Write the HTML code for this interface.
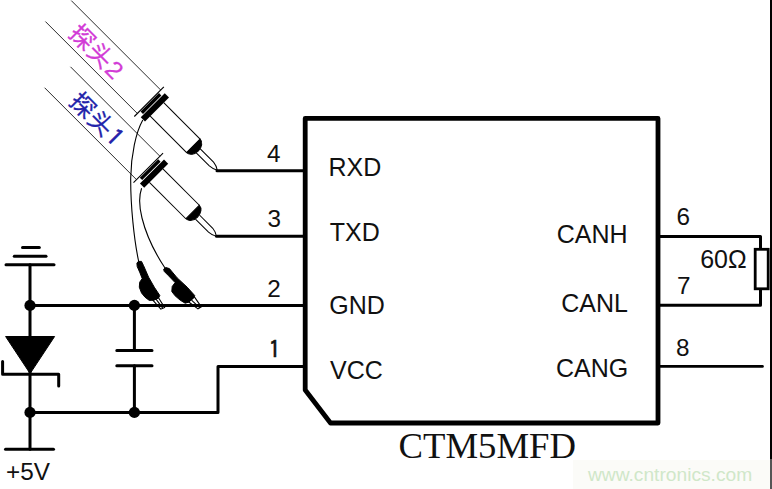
<!DOCTYPE html>
<html><head><meta charset="utf-8"><title>CTM5MFD</title>
<style>
html,body{margin:0;padding:0;background:#fff;}
svg{display:block}
text{font-family:"Liberation Sans","Noto Sans CJK SC",sans-serif;fill:#111}
</style></head><body>
<svg width="772" height="489" viewBox="0 0 772 489">
<rect width="772" height="489" fill="#fff"/>
<rect x="573" y="460" width="197" height="29" fill="#fbfbf8"/>
<rect x="770" y="0" width="2" height="459" fill="#000"/>
<rect x="770" y="459" width="2" height="30" fill="#555"/>
<!-- IC -->
<path d="M305.2 118.4 H658 V423 H330.5 L305.2 390 Z" fill="none" stroke="#000" stroke-width="4.8" stroke-linejoin="round"/>
<!-- pins -->
<g stroke="#000" stroke-width="3" fill="none" stroke-linecap="round" stroke-linejoin="round">
<path d="M217 170.8 H305"/>
<path d="M216.5 236.2 H305"/>
<path d="M30 305.5 H305"/>
<path d="M305 366.4 H218 V412.4 H30"/>
<path d="M30 264.8 V449.3"/>
<path d="M6 264.8 H54"/>
<path d="M14.3 256.2 H46"/>
<path d="M22.5 247.4 H39.3"/>
<path d="M5.5 449.3 H53.5"/>
<path d="M134.4 305.5 V350.4 M134.4 365.8 V412.4"/>
<path d="M116.8 350.4 H152 M116.8 365.8 H152"/>
<path d="M2.6 361.5 V374.2 H58.7 V386"/>
<path d="M658 236.5 H760.5 V249 M760.5 289 V305.3 H658"/>
<path d="M658 366.4 H762.5" stroke-width="2.6"/>
<rect x="755.2" y="249.3" width="13" height="39.5" fill="#fff" stroke-width="2.8" stroke-linejoin="miter"/>
</g>
<path d="M5.6 336.5 H54.6 L30.1 373.6 Z" fill="#000" stroke="#000" stroke-width="1" stroke-linejoin="round"/>
<g fill="#000"><circle cx="30" cy="305.4" r="5.6"/><circle cx="134.4" cy="305.4" r="5.6"/><circle cx="30" cy="412.4" r="5.6"/><circle cx="134.4" cy="412.4" r="5.6"/></g>
<!-- probes -->
<defs>
<g id="probe" transform="translate(149.15,101.65) rotate(45)" fill="none" stroke="#000" stroke-linecap="butt">
  <line x1="-126.5" y1="-16.4" x2="0" y2="-16.4" stroke="#222" stroke-width="0.9"/>
  <line x1="-130" y1="16.7" x2="0" y2="16.7" stroke="#222" stroke-width="0.9"/>
  <line x1="0" y1="-20.8" x2="0" y2="21" stroke-width="1.1"/>
  <rect x="0.9" y="-13" width="3.4" height="26" fill="#000" stroke="none"/>
  <rect x="5.1" y="-17" width="6" height="34" fill="#000" stroke="none"/>
  <line x1="11" y1="-9.6" x2="62.5" y2="-9.6" stroke-width="1"/>
  <line x1="11" y1="9.5" x2="62.5" y2="9.5" stroke-width="1"/>
  <path d="M62.5 -9.6 A7.1 9.55 0 0 1 62.5 9.5 Z" fill="#000" stroke-width="1"/>
  <path d="M69.5 -2.8 L88.3 -2.8 Q93.5 -2.2 96.6 0.3 Q93 2.6 88 2.9 L69.5 2.9" stroke-width="1"/>
</g>
</defs>
<use href="#probe"/>
<use href="#probe" transform="translate(-0.8,66.2)"/>
<!-- wires -->
<g fill="none" stroke="#000" stroke-width="1.1">
<path d="M142.8 120 C136 132 131 155 130.7 178 C130.5 205 134 240 138.8 262"/>
<path d="M141.6 188.3 C138.5 197 139.5 208 142 218 C146 234 155 253 165 268"/>
</g>
<polygon points="152.6,299.8 160.8,309.2 164.6,307.5 158.3,297.5" fill="none" stroke="#000" stroke-width="1.1"/>
<line x1="155.8" y1="298.9" x2="162.9" y2="308.4" stroke="#000" stroke-width="1.1"/>
<polygon points="188.4,301.8 198.0,308.9 201.3,306.9 194.4,296.9" fill="none" stroke="#000" stroke-width="1.1"/>
<line x1="191.5" y1="300.1" x2="199.8" y2="307.9" stroke="#000" stroke-width="1.1"/>
<polygon points="136.9,263.2 138.3,261.4 141.5,261.4 143.6,265.7 148.6,277.2 154.3,287.2 159.8,295.5 158.6,297.9 154.3,300.1 149.3,300.4 145.0,297.2 141.5,292.9 139.3,287.2 139.7,282.2 142.2,278.6 140.0,272.9 137.2,266.5" fill="#000" stroke="#000" stroke-width="1" stroke-linejoin="round"/>
<polygon points="163.6,269.3 165.8,267.5 169.4,268.6 177.2,277.9 187.2,287.2 194.7,295.5 193.7,297.9 188.7,302.2 185.1,303.2 180.1,300.1 175.1,295.8 171.8,291.5 172.2,286.5 175.1,282.6 168.6,275.8 164.3,271.5" fill="#000" stroke="#000" stroke-width="1" stroke-linejoin="round"/>
<!-- labels -->
<g font-size="24.3px">
<text x="267" y="162">4</text>
<text x="267.5" y="227">3</text>
<text x="267.3" y="296.5">2</text>
<text x="268.4" y="357.7" font-size="24.3px" style="font-family:'IPAGothic','NanumGothic',sans-serif;stroke:#111;stroke-width:0.5">1</text>
<text x="676.5" y="225.2">6</text>
<text x="677" y="294">7</text>
<text x="676" y="355.5">8</text>
<text x="6" y="479.6">+5V</text>
</g>
<g font-size="25px">
<text x="328.5" y="176">RXD</text>
<text x="329.7" y="241.3">TXD</text>
<text x="329.2" y="314.2">GND</text>
<text x="330" y="379.3">VCC</text>
<text x="627.5" y="243" text-anchor="end">CANH</text>
<text x="628" y="311.6" text-anchor="end">CANL</text>
<text x="628.3" y="377.3" text-anchor="end">CANG</text>
<text x="700.2" y="268">60Ω</text>
</g>
<text x="398.5" y="458.4" font-size="36px" textLength="177.5" lengthAdjust="spacingAndGlyphs" style="font-family:'Liberation Serif',serif">CTM5MFD</text>
<text x="588" y="480.5" font-size="19.2px" style="fill:#d0e7c9">www.cntronics.com</text>
<text transform="translate(149.15,101.65) rotate(45)" y="10.6" font-size="24.5px" style="fill:#d23cd6;stroke:#d23cd6;stroke-width:0.3"><tspan x="-104.9">探</tspan><tspan x="-79.5">头</tspan><tspan x="-54" style="font-family:'Liberation Sans',sans-serif">2</tspan></text>
<text transform="translate(149.65,169.65) rotate(45)" y="10.6" font-size="24.5px" style="fill:#2222aa;stroke:#2222aa;stroke-width:0.3"><tspan x="-104.9">探</tspan><tspan x="-79.5">头</tspan><tspan x="-53.5" style="font-family:'IPAGothic','NanumGothic',sans-serif;stroke-width:0.6">1</tspan></text>
</svg>
</body></html>
